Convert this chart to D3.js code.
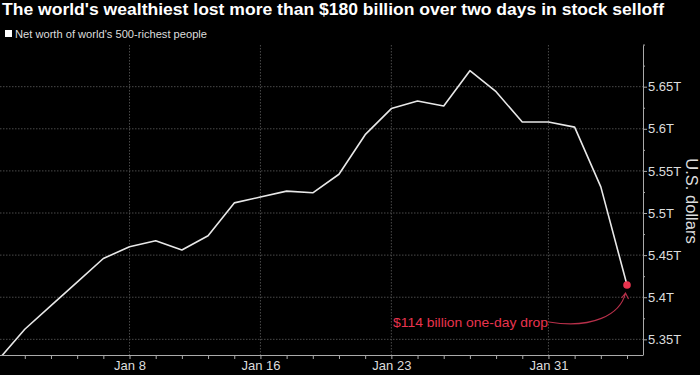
<!DOCTYPE html>
<html>
<head>
<meta charset="utf-8">
<script src="https://cdn.jsdelivr.net/npm/d3@7"></script>
<style>
  body { margin: 0; background: #000; }
  svg { display: block; font-family: "Liberation Sans", Arial, sans-serif; }
</style>
</head>
<body>
<div class="chart"></div>
<script>
const w = 700;
const h = 375;

// trading days shown on the chart
const dates = ["Dec 29", "Jan 2", "Jan 3", "Jan 4", "Jan 5", "Jan 8", "Jan 9", "Jan 10", "Jan 11", "Jan 12",
  "Jan 16", "Jan 17", "Jan 18", "Jan 19", "Jan 22", "Jan 23", "Jan 24", "Jan 25", "Jan 26", "Jan 29",
  "Jan 30", "Jan 31", "Feb 1", "Feb 2", "Feb 5"];
// net worth, trillions of dollars
const netWorth = [5.326, 5.362, 5.390, 5.418, 5.446, 5.460, 5.467, 5.456, 5.473, 5.512,
  5.519, 5.526, 5.524, 5.546, 5.593, 5.624, 5.633, 5.627, 5.669, 5.644,
  5.608, 5.608, 5.602, 5.531, 5.4145];
const labelDates = ["Jan 8", "Jan 16", "Jan 23", "Jan 31"];
const yTicks = [5.35, 5.4, 5.45, 5.5, 5.55, 5.6, 5.65];
const yMinorTicks = [5.375, 5.425, 5.475, 5.525, 5.575, 5.625, 5.675, 5.7];

const plotLeft = 0, plotRight = 643, plotTop = 45, plotBottom = 355;
const red = "#e8344e";

const svg = d3.select(".chart")
.append("svg")
.attr("width", w)
.attr("height", h);

svg.append("rect").attr("width", w).attr("height", h).attr("fill", "#000");

const x = d3.scaleLinear()
  .domain([0, dates.length - 1])
  .range([-1.4, 627]);

const y = d3.scaleLinear()
  .domain([5.3314, 5.6995])
  .range([plotBottom, plotTop]);

// title + legend
svg.append("text")
  .attr("x", 2)
  .attr("y", 15)
  .attr("fill", "#fff")
  .attr("font-size", "16px")
  .attr("font-weight", "bold")
  .attr("textLength", 662)
  .attr("lengthAdjust", "spacingAndGlyphs")
  .text("The world's wealthiest lost more than $180 billion over two days in stock selloff");

svg.append("rect")
  .attr("x", 5).attr("y", 30)
  .attr("width", 7).attr("height", 7)
  .attr("fill", "#fff");

svg.append("text")
  .attr("x", 15)
  .attr("y", 37.5)
  .attr("fill", "#ddd")
  .attr("font-size", "10.5px")
  .attr("textLength", 192)
  .attr("lengthAdjust", "spacingAndGlyphs")
  .text("Net worth of world's 500-richest people");

// grid
const grid = svg.append("g")
  .attr("stroke", "#4a4a4a")
  .attr("stroke-dasharray", "1.5,1.5");

grid.selectAll(".hgrid")
  .data(yTicks)
  .enter().append("line")
  .attr("x1", plotLeft).attr("x2", plotRight)
  .attr("y1", d => y(d)).attr("y2", d => y(d));

grid.selectAll(".vgrid")
  .data(labelDates)
  .enter().append("line")
  .attr("x1", d => x(dates.indexOf(d))).attr("x2", d => x(dates.indexOf(d)))
  .attr("y1", plotTop).attr("y2", plotBottom);

// axes
const xAxis = svg.append("g")
  .attr("transform", `translate(0,${plotBottom})`)
  .call(d3.axisBottom(x)
    .tickValues(d3.range(1, dates.length))
    .tickSize(4)
    .tickSizeOuter(0)
    .tickFormat(i => labelDates.includes(dates[i]) ? dates[i] : ""));
xAxis.select(".domain").attr("d", `M${plotLeft},0.5H${plotRight}`);

const yAxis = svg.append("g")
  .attr("transform", `translate(${plotRight},0)`)
  .call(d3.axisRight(y)
    .tickValues(yTicks)
    .tickSize(4)
    .tickPadding(1)
    .tickSizeOuter(0)
    .tickFormat(d => +d.toFixed(2) + "T"));

const yMinor = svg.append("g")
  .attr("transform", `translate(${plotRight},0)`)
  .call(d3.axisRight(y)
    .tickValues(yMinorTicks)
    .tickSize(2)
    .tickSizeOuter(0)
    .tickFormat(""));
yMinor.select(".domain").remove();

svg.selectAll(".domain, .tick line").attr("stroke", "#aaa");
svg.selectAll(".tick text")
  .attr("fill", "#ddd")
  .attr("font-size", "13px")
  .attr("font-family", "Liberation Sans, Arial, sans-serif");
xAxis.selectAll(".tick text").attr("y", 6);

svg.append("text")
  .attr("transform", "translate(686,201) rotate(90)")
  .attr("text-anchor", "middle")
  .attr("fill", "#ddd")
  .attr("font-size", "16.5px")
  .text("U.S. dollars");

// line
svg.append("clipPath").attr("id", "plot")
  .append("rect")
  .attr("x", plotLeft).attr("y", plotTop)
  .attr("width", plotRight - plotLeft).attr("height", plotBottom - plotTop);

const line = d3.line()
  .x((d, i) => x(i))
  .y(d => y(d));

svg.append("path")
  .datum(netWorth)
  .attr("clip-path", "url(#plot)")
  .attr("fill", "none")
  .attr("stroke", "#e8e8e8")
  .attr("stroke-width", 1.6)
  .attr("stroke-linejoin", "round")
  .attr("d", line);

const last = netWorth.length - 1;
svg.append("circle")
  .attr("cx", x(last))
  .attr("cy", y(netWorth[last]))
  .attr("r", 3.8)
  .attr("fill", red);

// annotation
svg.append("text")
  .attr("x", 393)
  .attr("y", 327)
  .attr("fill", red)
  .attr("font-size", "13.5px")
  .attr("textLength", 155)
  .attr("lengthAdjust", "spacingAndGlyphs")
  .text("$114 billion one-day drop");

const ax = x(last) - 1.5, ay = y(netWorth[last]) + 8;
svg.append("path")
  .attr("fill", "none")
  .attr("stroke", "#b8304a")
  .attr("stroke-width", 1.1)
  .attr("d", `M549,322 C592,329 620,315 ${ax},${ay} M${ax - 4},${ay + 5} L${ax},${ay} L${ax + 3},${ay + 6}`);
</script>
</body>
</html>
